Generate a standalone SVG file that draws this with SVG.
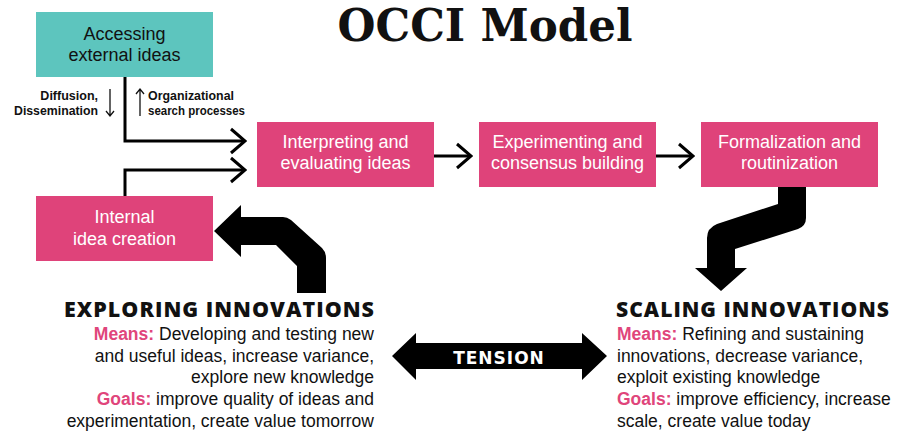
<svg xmlns="http://www.w3.org/2000/svg" width="912" height="436" viewBox="0 0 912 436">
<style>
.teal{fill:#5dc5be}
.pink{fill:#df437a}
.bt{font-family:"Liberation Sans",Arial,sans-serif;font-size:18px;text-anchor:middle}
.wt{fill:#fff}
.lbl{font-family:"Liberation Sans",Arial,sans-serif;font-size:12.5px;font-weight:bold;fill:#111}
.hd{font-family:"Open Sans","DejaVu Sans",sans-serif;font-size:21px;font-weight:800;fill:#111;letter-spacing:1px}
.tx{font-family:"Liberation Sans",Arial,sans-serif;font-size:17.5px;fill:#111}
.em{fill:#e0457b;font-weight:bold}
.ln{fill:none;stroke:#000;stroke-width:3}
.tn{fill:none;stroke:#111;stroke-width:1.3}
</style>
<defs>
<marker id="chev" markerUnits="userSpaceOnUse" viewBox="0 0 18 28" markerWidth="18" markerHeight="28" refX="16" refY="14" orient="auto">
<path d="M2,2 L16,14 L2,26" fill="none" stroke="#000" stroke-width="3"/>
</marker>
</defs>
<rect width="912" height="436" fill="#fff"/>
<text x="485" y="41" font-family="'DejaVu Serif',serif" font-weight="bold" font-size="44" text-anchor="middle" textLength="295" lengthAdjust="spacingAndGlyphs" fill="#111">OCCI Model</text>
<g id="connectors">
<path class="ln" d="M125,77 V141 H245" marker-end="url(#chev)"/>
<path class="ln" d="M125,196 V170 H245" marker-end="url(#chev)"/>
<path class="ln" d="M434,156 H471" marker-end="url(#chev)"/>
<path class="ln" d="M656,156 H693" marker-end="url(#chev)"/>
<path d="M214,231 L241,205 L241,217 L283,217 Q287,217 291,220 L322,248 Q326,252 326,258 L326,293 L297,293 L297,266 L276,245 L241,245 L241,257 Z" fill="#000"/>
<path d="M778,187 L806,187 L806,218 Q806,226 798,229 L735,249 L735,268 L747,268 L721,291 L695,268 L707,268 L707,238 Q707,228 717,224 L778,204 Z" fill="#000"/>
<path d="M392,356 L416,333 L416,343 L582,343 L582,333 L607,356 L582,380 L582,369 L416,369 L416,380 Z" fill="#000"/>
<text x="499" y="364" font-family="'DejaVu Sans',sans-serif" font-weight="bold" font-size="17" fill="#fff" text-anchor="middle" letter-spacing="1">TENSION</text>
<path class="tn" d="M110,89 V116 M106,111 L110,116 L114,111"/>
<path class="tn" d="M140,116 V89 M136,94 L140,89 L144,94"/>
<text class="lbl" x="98" y="100" text-anchor="end">Diffusion,</text>
<text class="lbl" x="98" y="115" text-anchor="end" textLength="84" lengthAdjust="spacingAndGlyphs">Dissemination</text>
<text class="lbl" x="148" y="100" textLength="86" lengthAdjust="spacingAndGlyphs">Organizational</text>
<text class="lbl" x="148" y="115" textLength="97" lengthAdjust="spacingAndGlyphs">search processes</text>
</g>
<g id="accessing">
<rect class="teal" x="36" y="12" width="177" height="65"/>
<text class="bt" x="124.5" y="40" fill="#111">Accessing</text>
<text class="bt" x="124.5" y="61" fill="#111">external ideas</text>
</g>
<g id="interpreting">
<rect class="pink" x="257" y="122" width="177" height="65"/>
<text class="bt wt" x="345.5" y="148">Interpreting and</text>
<text class="bt wt" x="345.5" y="169">evaluating ideas</text>
</g>
<g id="experimenting">
<rect class="pink" x="479" y="122" width="177" height="65"/>
<text class="bt wt" x="567.5" y="148">Experimenting and</text>
<text class="bt wt" x="567.5" y="169">consensus building</text>
</g>
<g id="formalization">
<rect class="pink" x="701" y="122" width="177" height="65"/>
<text class="bt wt" x="789.5" y="148">Formalization and</text>
<text class="bt wt" x="789.5" y="169">routinization</text>
</g>
<g id="internal">
<rect class="pink" x="36" y="196" width="177" height="65"/>
<text class="bt wt" x="124.5" y="223">Internal</text>
<text class="bt wt" x="124.5" y="245">idea creation</text>
</g>
<g id="exploring">
<text class="hd" x="375" y="317" text-anchor="end" textLength="311" lengthAdjust="spacingAndGlyphs">EXPLORING INNOVATIONS</text>
<text class="tx" x="374" y="340" text-anchor="end"><tspan class="em">Means:</tspan> Developing and testing new</text>
<text class="tx" x="374" y="362" text-anchor="end">and useful ideas, increase variance,</text>
<text class="tx" x="374" y="383" text-anchor="end">explore new knowledge</text>
<text class="tx" x="374" y="405" text-anchor="end"><tspan class="em">Goals:</tspan> improve quality of ideas and</text>
<text class="tx" x="374" y="427" text-anchor="end">experimentation, create value tomorrow</text>
</g>
<g id="scaling">
<text class="hd" x="616" y="317" textLength="274" lengthAdjust="spacingAndGlyphs">SCALING INNOVATIONS</text>
<text class="tx" x="617" y="340"><tspan class="em">Means:</tspan> Refining and sustaining</text>
<text class="tx" x="617" y="362">innovations, decrease variance,</text>
<text class="tx" x="617" y="383">exploit existing knowledge</text>
<text class="tx" x="617" y="405"><tspan class="em">Goals:</tspan> improve efficiency, increase</text>
<text class="tx" x="617" y="427">scale, create value today</text>
</g>
</svg>
